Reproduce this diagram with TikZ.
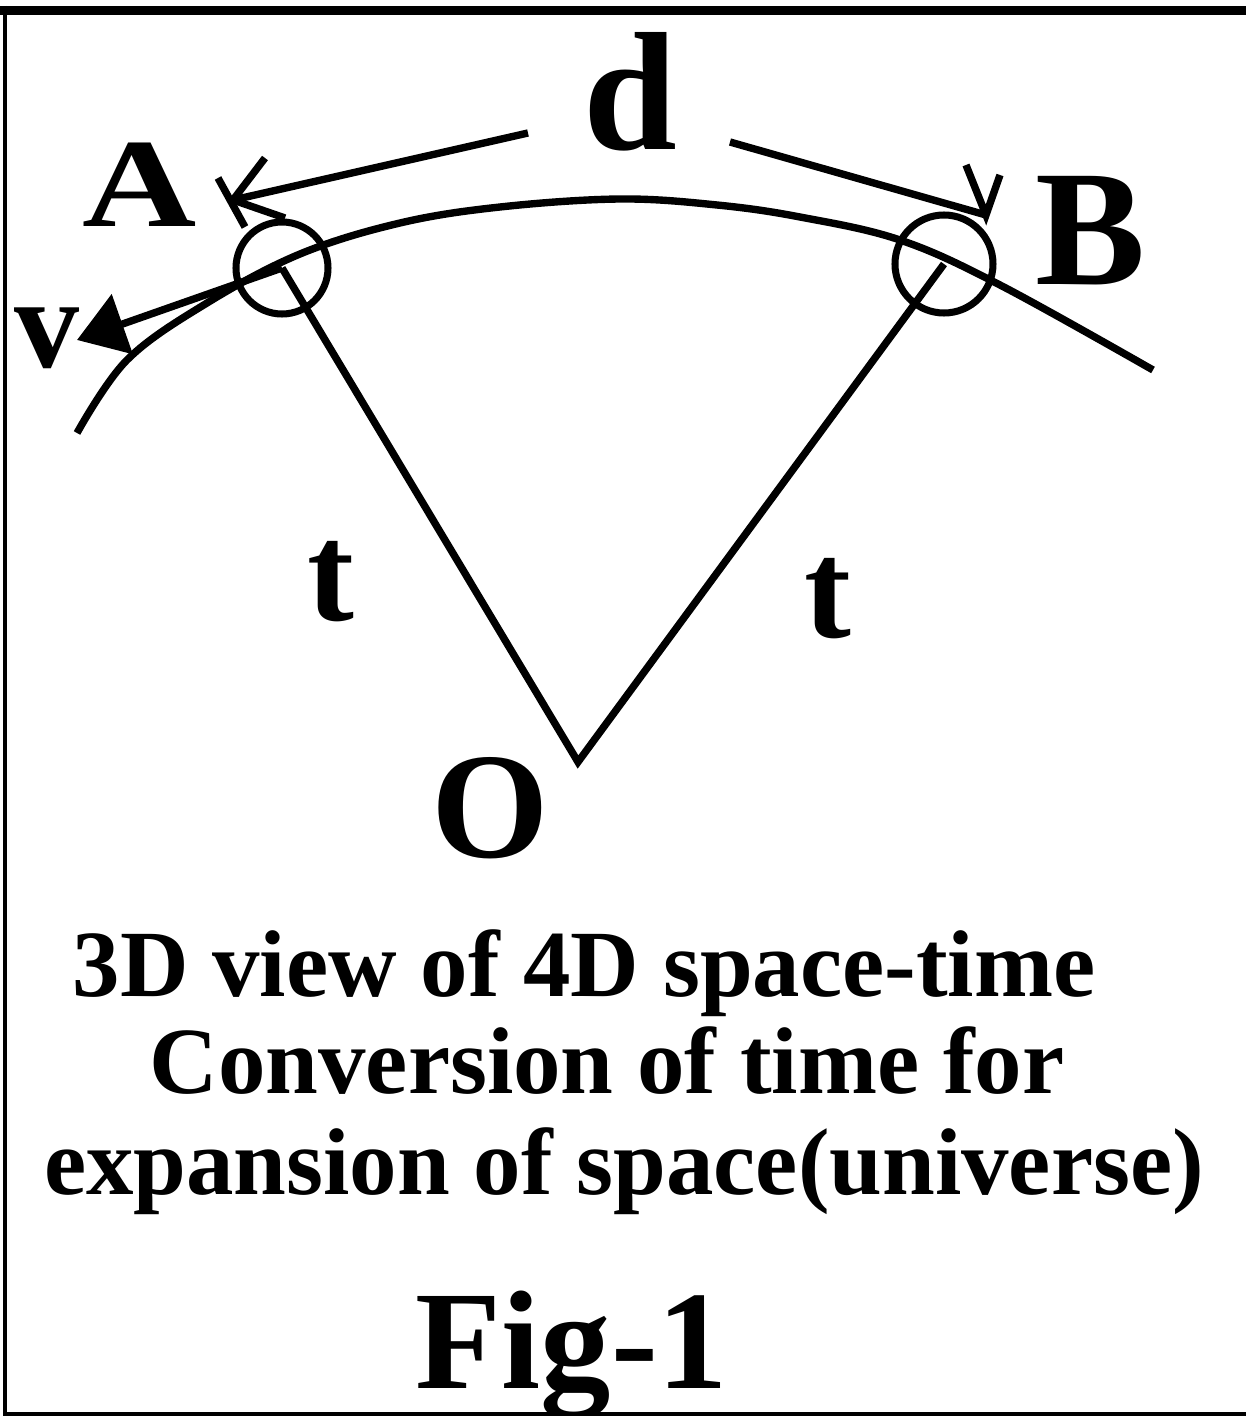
\documentclass[tikz,border=0pt]{standalone}
\usepackage{fontspec}
\setmainfont{Liberation Serif}
\usetikzlibrary{arrows.meta}
\newcommand{\lblsize}[1]{\fontsize{#1}{#1}\selectfont\bfseries}

\begin{document}
\begin{tikzpicture}[
  line width=2.1pt,
  lbl/.style={inner sep=0pt, anchor=base},
  ring/.style={circle, draw, line width=2pt, inner sep=0pt},
  varr/.style={-{Triangle[length=4.8mm, width=6.2mm]}}
]
\useasboundingbox (0,0) rectangle (12.46,14.16);

% frame
\draw[line width=2.6pt] (0,14.055) -- (12.46,14.055);
\draw[line width=1.2pt] (0.05,14.1) -- (0.05,0.02) -- (12.46,0.02);

% point labels
\node[lbl, font=\lblsize{36}] (a) at (1.40,11.89) {\scalebox{1.25}[1]{A}};
\node[lbl, font=\lblsize{48}] (dd) at (6.30,12.66) {d};
\node[lbl, font=\lblsize{47}] (b) at (10.91,11.31) {B};
\node[lbl, font=\lblsize{37}] (v) at (0.47,10.48) {v};
\node[lbl, font=\lblsize{40}] (t1) at (3.31,7.95) {t};
\node[lbl, font=\lblsize{40}] (t2) at (8.28,7.79) {t};
\node[lbl, font=\lblsize{43}] (o) at (4.90,5.58) {O};

% the two points on the arc
\node[ring, minimum size=0.92cm] (ca) at (2.82,11.48) {};
\node[ring, minimum size=0.98cm] (cb) at (9.44,11.52) {};

\coordinate (vo) at (5.78,6.54);
\coordinate (vtip) at (0.77,10.76);
\coordinate (dl) at (5.28,12.83);
\coordinate (atip) at (2.33,12.16);
\coordinate (dr) at (7.30,12.74);
\coordinate (btip) at (9.86,12.01);

% arc of space
\draw plot[smooth, tension=0.6] coordinates {(0.77,9.83) (1.27,10.56) (2.07,11.13)
  (3.00,11.62) (4.00,11.93) (5.00,12.09) (6.20,12.17) (7.17,12.11) (8.00,11.99)
  (9.00,11.76) (10.00,11.31) (11.53,10.46)};

\draw[line join=miter] (ca.center) -- (vo) -- (cb.center);
\draw[varr] (ca.center) -- (vtip);

% d, drawn by hand
\draw (dl) -- (atip);
\draw ([shift={(0.32,0.42)}]atip) -- (atip) -- ([shift={(0.52,-0.18)}]atip);
\draw ([shift={(-0.15,0.22)}]atip) -- ([shift={(0.12,-0.27)}]atip);
\draw (dr) -- (btip);
\draw ([shift={(-0.20,0.50)}]btip) -- (btip) -- ([shift={(0.14,0.40)}]btip);

% caption
\node[lbl, font=\lblsize{27}] (l1) at (5.84,4.19) {3D view of 4D space-time};
\node[lbl, font=\lblsize{27}] (l2) at (6.07,3.23) {Conversion of time for};
\node[lbl, font=\lblsize{27}] (l3) at (6.24,2.21) {expansion of space(universe)};
\node[lbl, font=\lblsize{40}] (fig) at (5.72,0.28) {Fig-1};

\end{tikzpicture}
\end{document}
